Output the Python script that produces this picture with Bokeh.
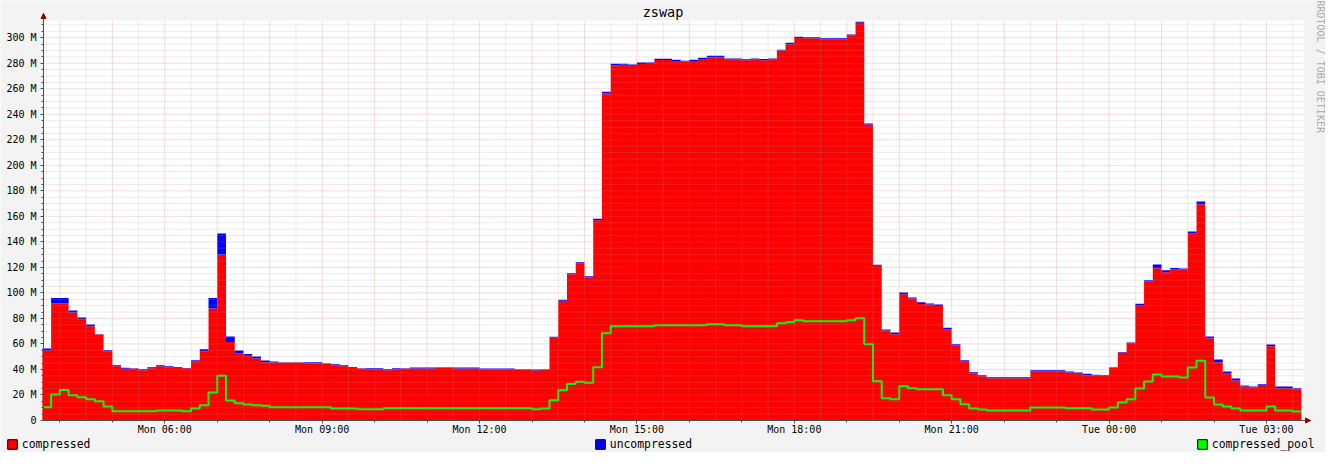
import numpy as np
import pandas as pd
from bokeh.plotting import figure
from bokeh.models import (Range1d, FixedTicker, DatetimeTickFormatter, CustomJSTickFormatter,
                          Legend, LegendItem, Label, Arrow, NormalHead)
from bokeh.embed import file_html
from bokeh.resources import INLINE

# ---------------- data (values in M) ----------------
title_text = "zswap"
watermark = "RRDTOOL / TOBI OETIKER"
series_names = ["compressed", "uncompressed", "compressed_pool"]
series_colors = ["#FF0000", "#0000FF", "#00FF00"]
first_bar = "2024-01-01 03:40"   # a Monday
step_minutes = 10

compressed = [
    54.8, 91.9, 91.9, 84.6, 79.1, 73.9, 67.4, 54.3, 42.5, 40.5,
    40.7, 39.4, 41.0, 42.5, 41.8, 41.3, 41.0, 46.5, 54.3, 87.7,
    130.0, 61.6, 52.7, 50.7, 48.6, 45.7, 45.4, 45.4, 45.4, 45.4,
    44.9, 44.9, 44.6, 43.3, 42.5, 41.3, 40.7, 40.2, 40.2, 39.4,
    40.2, 40.7, 40.7, 40.7, 40.7, 41.5, 41.5, 40.7, 40.7, 40.7,
    40.0, 40.0, 40.0, 40.0, 40.0, 40.0, 39.2, 40.0, 64.8, 93.8,
    114.6, 123.0, 112.0, 156.9, 256.4, 278.3, 278.9, 278.1, 279.4, 279.7,
    282.6, 282.6, 281.8, 281.5, 281.8, 283.4, 284.6, 284.6, 283.1, 283.1,
    282.3, 283.1, 282.3, 283.1, 289.9, 294.8, 299.8, 299.5, 299.5, 298.7,
    298.7, 298.7, 301.9, 311.8, 231.9, 121.2, 70.5, 67.6, 98.9, 95.6,
    91.4, 90.9, 89.8, 71.5, 59.0, 46.2, 37.1, 34.7, 33.1, 33.1,
    33.1, 33.1, 33.1, 38.4, 38.4, 38.4, 38.4, 37.6, 36.6, 35.5,
    35.5, 35.5, 41.5, 53.3, 60.3, 90.6, 108.9, 119.3, 116.2, 118.5,
    118.3, 146.5, 169.5, 64.5, 45.7, 36.8, 31.3, 26.6, 25.9, 27.2,
    58.2, 25.3, 25.3, 24.3,
]
uncompressed = [
    1.6, 4.2, 4.2, 1.6, 1.6, 1.3, 0.2, 0.8, 0.8, 0.8,
    0.2, 0.8, 0.8, 0.8, 0.7, 0.7, 0.2, 0.8, 1.6, 8.4,
    16.5, 4.2, 2.1, 1.5, 1.5, 1.3, 0.8, 0.2, 0.2, 0.2,
    0.8, 0.8, 0.2, 0.8, 0.8, 0.7, 0.2, 0.7, 0.7, 0.8,
    0.7, 0.2, 0.8, 0.8, 0.8, 0.2, 0.2, 0.8, 0.8, 0.8,
    0.7, 0.7, 0.7, 0.7, 0.2, 0.2, 0.8, 0.2, 0.8, 0.8,
    0.8, 1.0, 1.1, 1.3, 1.3, 1.4, 0.8, 1.0, 1.1, 0.8,
    1.0, 1.0, 1.0, 0.5, 1.0, 1.0, 1.3, 1.3, 0.7, 0.7,
    0.8, 0.7, 1.0, 0.7, 0.7, 1.3, 1.0, 0.8, 0.8, 0.8,
    0.8, 0.8, 0.7, 0.8, 0.8, 0.8, 0.8, 1.3, 1.4, 0.8,
    1.3, 0.8, 1.1, 1.1, 0.8, 1.1, 0.8, 0.8, 0.8, 0.8,
    0.8, 0.8, 0.8, 1.0, 1.0, 1.0, 1.0, 0.8, 1.0, 1.1,
    0.3, 0.2, 0.3, 0.3, 0.8, 1.0, 1.1, 2.9, 1.5, 1.1,
    0.8, 1.6, 2.1, 1.3, 2.1, 1.6, 1.6, 0.8, 0.7, 1.3,
    1.3, 1.3, 1.3, 1.0,
]
compressed_pool = [
    10.4, 20.4, 24.0, 19.8, 18.3, 16.7, 15.1, 11.0, 7.3, 7.3,
    7.3, 7.3, 7.3, 7.8, 7.8, 7.8, 7.3, 9.4, 12.0, 21.9,
    35.0, 15.7, 13.6, 12.5, 12.0, 11.5, 10.4, 10.4, 10.4, 10.4,
    10.4, 10.4, 10.4, 9.4, 9.4, 9.4, 8.9, 8.9, 8.9, 9.6,
    9.6, 9.6, 9.6, 9.6, 9.6, 9.6, 9.6, 9.6, 9.6, 9.6,
    9.6, 9.6, 9.6, 9.6, 9.6, 9.6, 8.9, 9.4, 15.9, 23.7,
    28.7, 30.3, 29.5, 41.8, 68.4, 73.9, 73.9, 73.9, 73.9, 73.9,
    74.7, 74.7, 74.7, 74.7, 74.7, 74.7, 75.5, 75.5, 74.7, 74.7,
    73.9, 73.9, 73.9, 73.9, 76.2, 77.0, 78.6, 77.8, 77.8, 77.8,
    77.8, 77.8, 78.6, 80.2, 59.8, 30.8, 17.5, 16.7, 26.9, 25.3,
    24.5, 24.5, 24.5, 19.8, 16.7, 12.8, 9.4, 8.6, 7.8, 7.8,
    7.8, 7.8, 7.8, 10.2, 10.2, 10.2, 10.2, 9.6, 9.6, 9.6,
    8.6, 8.6, 10.2, 14.1, 16.7, 25.1, 30.6, 36.0, 34.5, 34.5,
    33.7, 41.5, 46.8, 18.0, 12.5, 11.0, 9.4, 7.8, 7.8, 7.8,
    11.0, 7.8, 7.8, 7.1,
]
y_major = list(range(0, 301, 20))
y_minor = [v for v in range(5, 311, 5) if v % 20]

# ---------------- derived tables ----------------
def to_ms(idx):
    return idx.values.astype("datetime64[ms]").astype(np.int64).astype(float)

n = len(compressed)
starts = to_ms(pd.date_range(first_bar, periods=n, freq=f"{step_minutes}min"))
ends = starts + step_minutes * 60 * 1000
xs = np.column_stack([starts, ends]).ravel()
c2 = np.repeat(np.array(compressed), 2)
t2 = np.repeat(np.array(compressed) + np.array(uncompressed), 2)
p2 = np.repeat(np.array(compressed_pool), 2)

W, H = 1325, 452
HOUR = 3600e3
PX_PER_H = 52.46
CANVAS_L, CANVAS_W, CANVAS_B, CANVAS_H = 43, 1260, 420, 400
YMAX = 313.5
t6 = to_ms(pd.DatetimeIndex(["2024-01-01 06:00"]))[0]
x0 = t6 - 121.3 / PX_PER_H * HOUR            # left edge of the graph canvas
x1 = x0 + CANVAS_W / PX_PER_H * HOUR         # right edge of the graph canvas


def fx(px):   # pixel column -> data x
    return x0 + (px - CANVAS_L) / PX_PER_H * HOUR


def fy(py):   # pixel row -> data y
    return (CANVAS_B - py) * YMAX / CANVAS_H


label_ticks = to_ms(pd.date_range("2024-01-01 06:00", "2024-01-02 03:00", freq="3h"))
hour_ticks = to_ms(pd.date_range("2024-01-01 04:00", "2024-01-02 03:00", freq="1h"))
half_ticks = to_ms(pd.date_range("2024-01-01 04:30", "2024-01-02 03:30", freq="1h"))

FONT = "DejaVu Sans Mono"
AXIS_C = "#4D4D4D"
BACK = "#F3F3F3"

p = figure(width=W, height=H, x_axis_type="datetime",
           x_range=Range1d(fx(0), fx(W)), y_range=Range1d(fy(H), fy(0)),
           output_backend="svg", toolbar_location=None,
           min_border_left=0, min_border_right=0, min_border_top=0, min_border_bottom=0,
           background_fill_color=BACK, border_fill_color=BACK, outline_line_color=None)

# graph canvas
p.quad(left=x0, right=x1, bottom=0, top=YMAX, fill_color="#FFFFFF", line_color=None)

# data
p.varea(x=xs, y1=0, y2=c2, fill_color=series_colors[0])
p.varea(x=xs, y1=c2, y2=t2, fill_color=series_colors[1])
p.line(x=xs, y=p2, line_color=series_colors[2], line_width=2)

# grid (drawn over the data, restricted to the canvas)
p.xgrid.visible = False
p.ygrid.visible = False
MAJ, MIN = "#E06060", "#A0A0A0"
p.segment(x0=half_ticks, y0=0, x1=half_ticks, y1=YMAX, line_color=MIN, line_alpha=0.4,
          line_dash="1 1", line_width=1)
p.segment(x0=x0, y0=y_minor, x1=x1, y1=y_minor, line_color=MIN, line_alpha=0.4,
          line_dash="1 1", line_width=1)
p.segment(x0=hour_ticks, y0=0, x1=hour_ticks, y1=YMAX, line_color=MAJ, line_alpha=0.45,
          line_dash="1 1", line_width=1)
p.segment(x0=x0, y0=y_major[1:], x1=x1, y1=y_major[1:], line_color=MAJ, line_alpha=0.45,
          line_dash="1 1", line_width=1)

# axes at fixed positions (canvas edges)
xa, ya = p.xaxis[0], p.yaxis[0]
xa.fixed_location = 0
ya.fixed_location = x0
xa.bounds = (x0, fx(1310))
ya.bounds = (0, fy(13))
xa.ticker = FixedTicker(ticks=list(label_ticks), minor_ticks=list(hour_ticks))
fmt = "%a %H:%M"
xa.formatter = DatetimeTickFormatter(hours=fmt, hourmin=fmt, days=fmt, minutes=fmt,
                                     minsec=fmt, strip_leading_zeros=False)
ya.ticker = FixedTicker(ticks=y_major, minor_ticks=y_minor)
ya.formatter = CustomJSTickFormatter(code="return tick == 0 ? '0' : tick.toFixed(0) + ' M';")
for ax in (xa, ya):
    ax.axis_line_color = AXIS_C
    ax.major_tick_line_color = AXIS_C
    ax.minor_tick_line_color = AXIS_C
    ax.major_tick_in = 0
    ax.major_tick_out = 3
    ax.minor_tick_in = 0
    ax.minor_tick_out = 2
    ax.major_label_text_font = FONT
    ax.major_label_text_font_size = "10px"
    ax.major_label_text_color = "#000000"
xa.major_label_standoff = 0
ya.major_label_standoff = 4

# axis arrows
ARROW_C = "#8B0000"
p.add_layout(Arrow(x_start=x0, y_start=YMAX, x_end=x0, y_end=fy(13), line_color=AXIS_C,
                   line_width=1, end=NormalHead(size=5, fill_color=ARROW_C, line_color=ARROW_C)))
p.add_layout(Arrow(x_start=x1, y_start=0, x_end=fx(1310), y_end=0, line_color=AXIS_C,
                   line_width=1, end=NormalHead(size=5, fill_color=ARROW_C, line_color=ARROW_C)))

# title and watermark
p.add_layout(Label(x=fx(662.5), y=fy(11), text=title_text, text_align="center",
                   text_baseline="middle", text_font=FONT, text_font_size="13.5px",
                   text_color="#000000"))
p.add_layout(Label(x=fx(W), y=fy(0), text=watermark, angle=-np.pi / 2,
                   text_align="left", text_baseline="top", text_font=FONT,
                   text_font_size="10px", text_color="#ABABAB"))

# legend entries spread along the bottom; each uses a zero-size proxy box
# anchored at the first sample so that the legend swatch (fill + black border) is drawn
legend_px = [5.8, 593.8, 1195.8]
for name, col, lx in zip(series_names, series_colors, legend_px):
    r = p.quad(left=starts[:1], right=starts[:1], top=[0], bottom=[0], fill_color=col,
               line_color="#000000", line_width=1)
    lg = Legend(items=[LegendItem(label=name, renderers=[r], index=0)], location=(lx, 1),
                orientation="horizontal", padding=0, margin=0, spacing=0,
                glyph_width=12, glyph_height=12, label_height=12, label_standoff=4,
                border_line_color=None, background_fill_alpha=0,
                label_text_font=FONT, label_text_font_size="11.4px",
                label_text_color="#000000")
    p.add_layout(lg, "center")

open("out.html", "w").write(file_html(p, INLINE))
